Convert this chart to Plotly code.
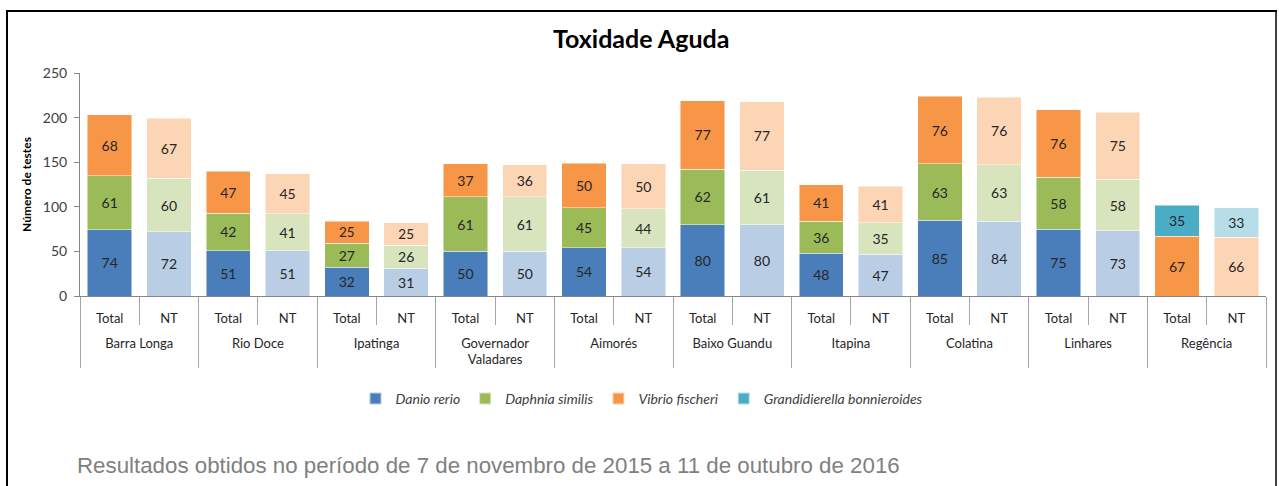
import plotly.graph_objects as go

locations = ["Barra Longa", "Rio Doce", "Ipatinga", "Governador<br>Valadares", "Aimorés",
             "Baixo Guandu", "Itapina", "Colatina", "Linhares", "Regência"]
kinds = ["Total", "NT"]

danio_total = [74, 51, 32, 50, 54, 80, 48, 85, 75, None]
danio_nt = [72, 51, 31, 50, 54, 80, 47, 84, 73, None]
daphnia_total = [61, 42, 27, 61, 45, 62, 36, 63, 58, None]
daphnia_nt = [60, 41, 26, 61, 44, 61, 35, 63, 58, None]
vibrio_total = [68, 47, 25, 37, 50, 77, 41, 76, 76, 67]
vibrio_nt = [67, 45, 25, 36, 50, 77, 41, 76, 75, 66]
grand_total = [None, None, None, None, None, None, None, None, None, 35]
grand_nt = [None, None, None, None, None, None, None, None, None, 33]

series = [
    ("Danio rerio", danio_total, danio_nt, "#4a7ebb", "#b9cde5"),
    ("Daphnia similis", daphnia_total, daphnia_nt, "#9bbb59", "#d7e4bd"),
    ("Vibrio fischeri", vibrio_total, vibrio_nt, "#f79646", "#fcd5b5"),
    ("Grandidierella bonnieroides", grand_total, grand_nt, "#4bacc6", "#b7dee8"),
]

x_outer = []
x_inner = []
for loc in locations:
    for k in kinds:
        x_outer.append("<br>" + loc)
        x_inner.append(k)

fig = go.Figure()
for name, tot, nt, c_dark, c_light in series:
    ys, cols = [], []
    for t, n in zip(tot, nt):
        ys += [t, n]
        cols += [c_dark, c_light]
    fig.add_trace(go.Bar(
        name=name, x=[x_outer, x_inner], y=ys,
        marker=dict(color=cols, line=dict(color="rgba(255,255,255,0.6)", width=0.8)),
        text=[("" if v is None else str(v)) for v in ys],
        textposition="inside", insidetextanchor="middle", textangle=0,
        textfont=dict(family="Lato", size=14, color="#262626"),
        hoverinfo="skip",
    ))

W, H = 1279, 486
L, R, T, B = 80, 13, 73, 190
pw, ph = W - L - R, H - T - B

def px(x):
    return (x - L) / pw

def py(y):
    return (H - B - y) / ph

fig.update_layout(
    width=W, height=H,
    barmode="stack", bargap=0.25,
    margin=dict(l=L, r=R, t=T, b=B),
    paper_bgcolor="white", plot_bgcolor="white",
    font=dict(family="Lato", color="#404040", size=13),
    showlegend=True,
    legend=dict(orientation="h", x=px(642), xanchor="center", y=py(399), yanchor="middle",
                font=dict(family="Lato", size=14, color="#404040", style="italic"),
                itemwidth=30, traceorder="normal", tracegroupgap=0, itemsizing="constant"),
    annotations=[
        dict(text="<b>Toxidade Aguda</b>", x=px(641), y=py(38), xref="paper", yref="paper",
             xanchor="center", yanchor="middle", showarrow=False,
             font=dict(family="Lato", size=25, color="#000000")),
        dict(text="Resultados obtidos no período de 7 de novembro de 2015 a 11 de outubro de 2016",
             x=px(75), y=py(465), xref="paper", yref="paper", xanchor="left", yanchor="middle",
             showarrow=False, font=dict(family="Liberation Sans", size=22.3, color="#808080")),
    ],
    shapes=[
        dict(type="line", xref="paper", yref="paper", x0=px(6), x1=px(1277), y0=py(11), y1=py(11),
             line=dict(color="#000000", width=2)),
        dict(type="line", xref="paper", yref="paper", x0=px(7), x1=px(7), y0=py(11), y1=py(486),
             line=dict(color="#000000", width=2)),
        dict(type="line", xref="paper", yref="paper", x0=px(1276), x1=px(1276), y0=py(11), y1=py(486),
             line=dict(color="#000000", width=1.5)),
    ],
)

fig.update_yaxes(range=[0, 250], dtick=50, showgrid=False, zeroline=False,
                 showline=True, linecolor="#868686", linewidth=1,
                 ticks="outside", ticklen=5, tickcolor="#868686",
                 ticklabelstandoff=4,
                 tickfont=dict(family="Lato", size=14, color="#404040"),
                 title=dict(text="<b>Número de testes</b>", font=dict(family="Lato", size=12, color="#000000"),
                            standoff=8))
fig.update_xaxes(showgrid=False, showline=True, linecolor="#868686", linewidth=1,
                 ticks="outside", tickson="boundaries", ticklen=28, tickcolor="#a6a6a6",
                 ticklabelstandoff=10,
                 showdividers=True, dividercolor="#a6a6a6", dividerwidth=1,
                 tickfont=dict(family="Lato", size=13, color="#262626"))

fig.write_html("out.html", config={"displayModeBar": False},
               post_script="document.body.style.margin='0';")
